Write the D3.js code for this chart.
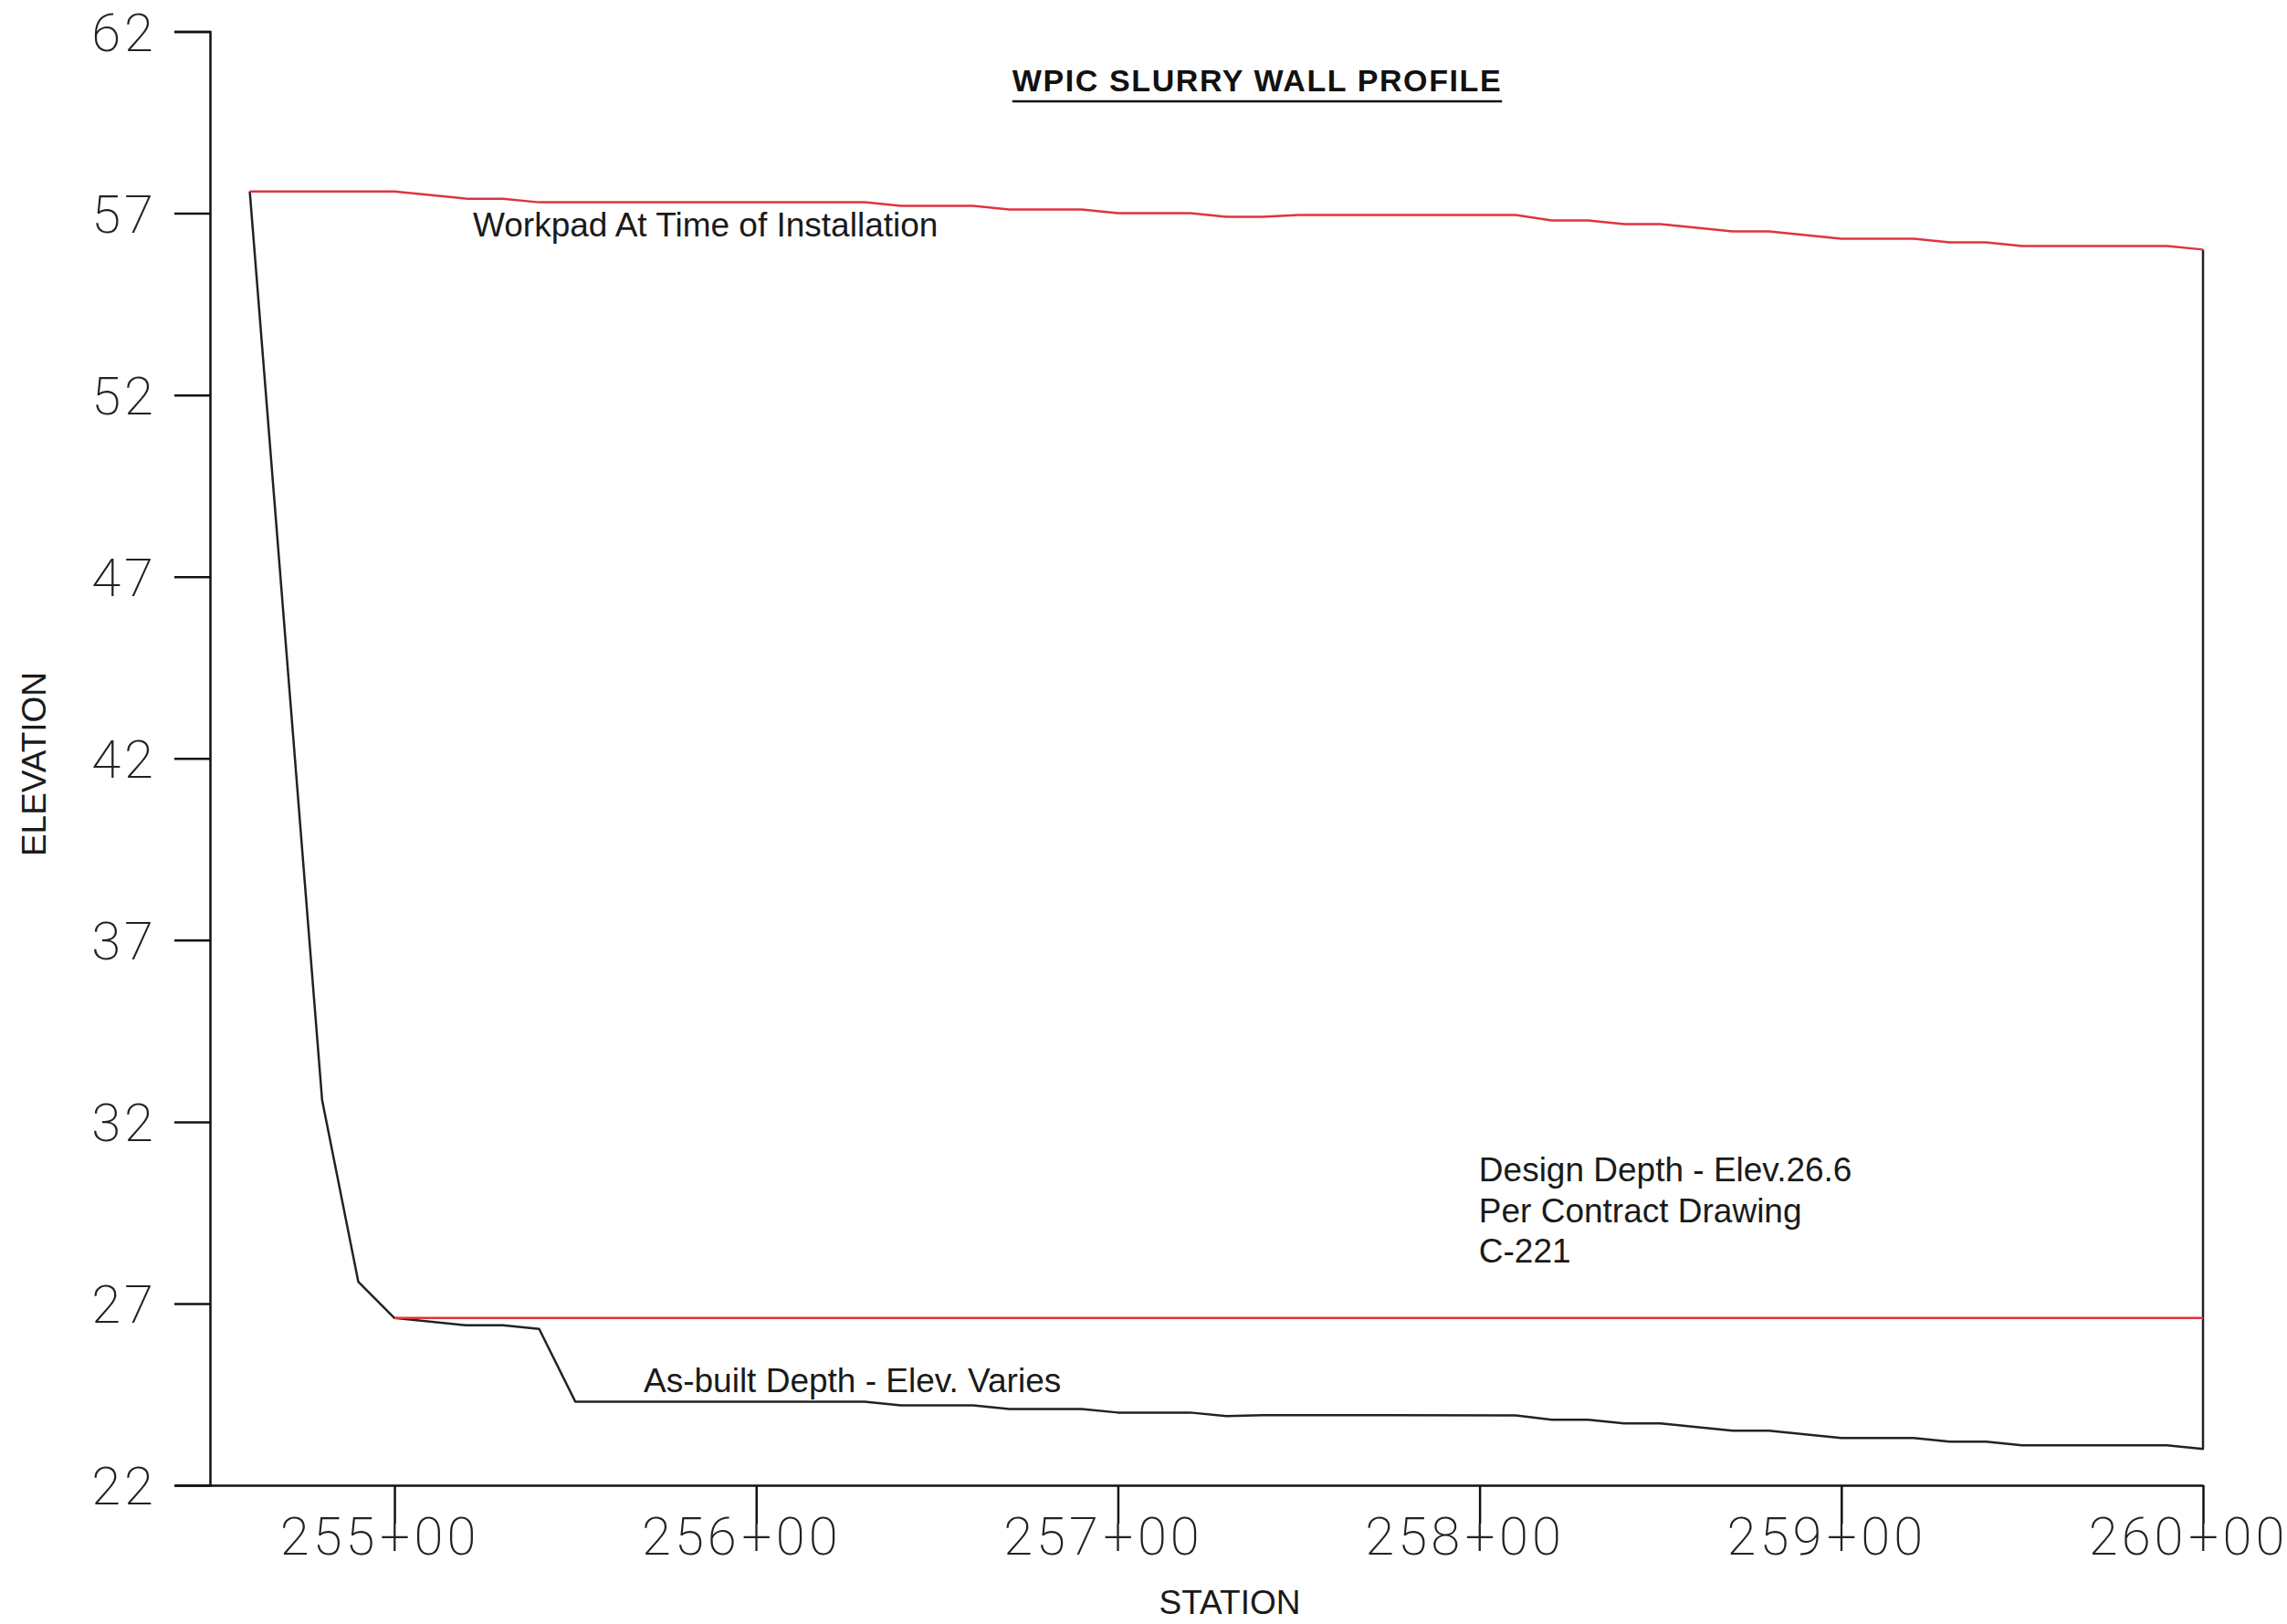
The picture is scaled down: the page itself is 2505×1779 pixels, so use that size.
<!DOCTYPE html>
<html>
<head>
<meta charset="utf-8">
<script src="https://cdn.jsdelivr.net/npm/d3@7/dist/d3.min.js"></script>
<style>
  body { margin: 0; background: #fff; }
</style>
</head>
<body>
<svg id="chart"></svg>
<script>
// stations in feet, elevations in feet
const workpadStation = [25460, 25500, 25520, 25530, 25540, 25630, 25640, 25660, 25670, 25690,
  25700, 25720, 25730, 25740, 25750, 25810, 25820, 25830, 25840, 25850, 25870, 25880, 25900,
  25920, 25930, 25940, 25950, 25990, 26000];
const workpadElev = [57.6, 57.6, 57.4, 57.4, 57.3, 57.3, 57.2, 57.2, 57.1, 57.1,
  57.0, 57.0, 56.9, 56.9, 56.95, 56.95, 56.8, 56.8, 56.7, 56.7, 56.5, 56.5, 56.3,
  56.3, 56.2, 56.2, 56.1, 56.1, 56.0];

const asBuiltStation = [25460, 25480, 25490, 25500, 25520, 25530, 25540, 25550, 25630, 25640,
  25660, 25670, 25690, 25700, 25720, 25730, 25740, 25810, 25820, 25830, 25840, 25850, 25870,
  25880, 25900, 25920, 25930, 25940, 25950, 25990, 26000];
const asBuiltElev = [57.6, 32.6, 27.6, 26.6, 26.4, 26.4, 26.3, 24.3, 24.3, 24.2,
  24.2, 24.1, 24.1, 24.0, 24.0, 23.9, 23.93, 23.92, 23.8, 23.8, 23.7, 23.7, 23.5,
  23.5, 23.3, 23.3, 23.2, 23.2, 23.1, 23.1, 23.0];

const designStation = [25500, 26000];
const designElev = [26.6, 26.6];

const elevTicks = [22, 27, 32, 37, 42, 47, 52, 57, 62];
const stationTicks = [25500, 25600, 25700, 25800, 25900, 26000];
const stationLabels = ['255+00', '256+00', '257+00', '258+00', '259+00', '260+00'];

const width = 2505;
const height = 1779;

const svg = d3.select('#chart')
  .attr('width', width)
  .attr('height', height)
  .style('background', '#fff');

const x = d3.scaleLinear()
  .domain([25449, 26000])
  .range([230, 2413]);

const y = d3.scaleLinear()
  .domain([22, 62])
  .range([1627, 34.5]);

const toPoints = (st, el) => st.map((s, i) => ({ s, e: el[i] }));

const line = d3.line()
  .x((d) => x(d.s))
  .y((d) => y(d.e));

// axes
const axisFont = 'Roboto, "DejaVu Sans", sans-serif';

const yAxis = svg.append('g')
  .attr('transform', `translate(${x.range()[0]},0)`)
  .call(d3.axisLeft(y).tickValues(elevTicks).tickSize(39).tickPadding(19));

yAxis.selectAll('text')
  .attr('dy', '0.36em')
  .style('font-family', axisFont)
  .style('font-weight', 200)
  .style('font-size', '58px')
  .style('letter-spacing', '4px')
  .style('fill', '#222');

const xAxis = svg.append('g')
  .attr('transform', `translate(0,${y.range()[0]})`)
  .call(d3.axisBottom(x).tickValues(stationTicks).tickSize(42).tickSizeOuter(0));

xAxis.selectAll('text')
  .attr('y', 76)
  .attr('dy', null)
  .text(null)
  .style('font-family', axisFont)
  .style('font-weight', 200)
  .style('font-size', '58px')
  .style('letter-spacing', '4px')
  .style('fill', '#222')
  .each(function (d, i) {
    const parts = stationLabels[i].split('+');
    const t = d3.select(this);
    t.append('tspan').attr('x', -18).attr('text-anchor', 'end').text(parts[0]);
    t.append('tspan').attr('x', 2).attr('text-anchor', 'middle').text('+');
    t.append('tspan').attr('x', 21).attr('text-anchor', 'start').text(parts[1]);
  });

svg.selectAll('.domain, .tick line')
  .attr('stroke', '#111')
  .attr('stroke-width', 2.5);

// wall outline: as-built bottom plus closing line at the east end
const asBuilt = toPoints(asBuiltStation, asBuiltElev);
const workpad = toPoints(workpadStation, workpadElev);
asBuilt.push(workpad[workpad.length - 1]);

svg.append('path')
  .datum(asBuilt)
  .attr('d', line)
  .attr('fill', 'none')
  .attr('stroke', '#222')
  .attr('stroke-width', 2.5)
  .attr('stroke-linejoin', 'round');

svg.append('path')
  .datum(workpad)
  .attr('d', line)
  .attr('fill', 'none')
  .attr('stroke', '#e0343f')
  .attr('stroke-width', 2.5);

svg.append('path')
  .datum(toPoints(designStation, designElev))
  .attr('d', line)
  .attr('fill', 'none')
  .attr('stroke', '#e0343f')
  .attr('stroke-width', 2.5);

// labels
const labelFont = '"Liberation Sans", Arial, sans-serif';

svg.append('text')
  .attr('x', x(25521.7))
  .attr('y', y(56.37))
  .style('font-family', labelFont)
  .style('font-size', '37px')
  .style('fill', '#1a1a1a')
  .text('Workpad At Time of Installation');

svg.append('text')
  .attr('x', x(25568.9))
  .attr('y', y(24.56))
  .style('font-family', labelFont)
  .style('font-size', '37px')
  .style('fill', '#1a1a1a')
  .text('As-built Depth - Elev. Varies');

const designNote = svg.append('text')
  .attr('x', x(25799.8))
  .attr('y', y(30.36))
  .style('font-family', labelFont)
  .style('font-size', '37px')
  .style('fill', '#1a1a1a');

['Design Depth - Elev.26.6', 'Per Contract Drawing', 'C-221'].forEach((t, i) => {
  designNote.append('tspan')
    .attr('x', x(25799.8))
    .attr('dy', i === 0 ? 0 : 44.5)
    .text(t);
});

// title
const title = svg.append('text')
  .attr('x', 1377)
  .attr('y', 100)
  .attr('text-anchor', 'middle')
  .style('font-family', labelFont)
  .style('font-weight', 'bold')
  .style('font-size', '34px')
  .style('letter-spacing', '1.6px')
  .style('fill', '#111')
  .text('WPIC SLURRY WALL PROFILE');

const tb = title.node().getBBox();
svg.append('line')
  .attr('x1', tb.x)
  .attr('x2', tb.x + tb.width)
  .attr('y1', 111)
  .attr('y2', 111)
  .attr('stroke', '#111')
  .attr('stroke-width', 2.5);

// axis titles
svg.append('text')
  .attr('transform', 'translate(50,837) rotate(-90)')
  .attr('text-anchor', 'middle')
  .style('font-family', labelFont)
  .style('font-size', '37px')
  .style('fill', '#1a1a1a')
  .text('ELEVATION');

svg.append('text')
  .attr('x', 1347)
  .attr('y', 1768)
  .attr('text-anchor', 'middle')
  .style('font-family', labelFont)
  .style('font-size', '37px')
  .style('fill', '#1a1a1a')
  .text('STATION');
</script>
</body>
</html>
